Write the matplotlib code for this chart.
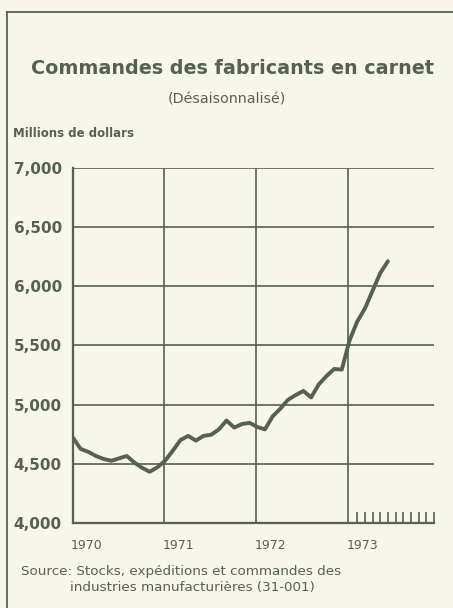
import matplotlib
matplotlib.use("Agg")
import matplotlib.pyplot as plt
from matplotlib.lines import Line2D
import numpy as np

# Commandes en carnet, mensuel, janv. 1970 - juin 1973 (millions de dollars)
mois = np.arange(42)
valeurs = [4720, 4625, 4600, 4565, 4540, 4525, 4545, 4565, 4510, 4465,
           4432, 4470, 4525, 4610, 4700, 4735, 4695, 4735, 4745, 4790,
           4865, 4805, 4835, 4845, 4810, 4790, 4900, 4965, 5040, 5080,
           5115, 5060, 5170, 5240, 5300, 5295, 5540, 5700, 5810, 5960,
           6110, 6210]

annees = ["1970", "1971", "1972", "1973"]
yticks = [4000, 4500, 5000, 5500, 6000, 6500, 7000]
ylabels = ["4,000", "4,500", "5,000", "5,500", "6,000", "6,500", "7,000"]

fond = "#f6f6ea"
encre = "#56624f"

fig = plt.figure(figsize=(4.53, 6.08), dpi=100, facecolor=fond)
ax = fig.add_axes([0.161, 0.140, 0.797, 0.584])
ax.set_facecolor(fond)

ax.plot(mois, valeurs, color=encre, lw=2.8, solid_capstyle="round",
        solid_joinstyle="round", zorder=3)

ax.set_xlim(0, 47)
ax.set_ylim(4000, 7000)

# grille
for y in yticks[1:]:
    ax.axhline(y, color=encre, lw=1.2, zorder=1)
for i in range(1, 4):
    ax.axvline(12 * i - 0.2, color=encre, lw=1.2, zorder=1)

for s in ["top", "right"]:
    ax.spines[s].set_visible(False)
ax.spines["left"].set_color(encre)
ax.spines["bottom"].set_color(encre)
ax.spines["left"].set_linewidth(1.6)
ax.spines["bottom"].set_linewidth(1.6)

ax.set_yticks(yticks)
ax.set_yticklabels(ylabels, fontsize=11, fontweight="bold", color=encre)
ax.tick_params(axis="y", length=0, pad=8)

# marques mensuelles de 1973
ax.set_xticks(np.arange(37, 48), minor=True)
ax.set_xticks([])
ax.tick_params(axis="x", which="minor", direction="in", length=8,
               width=1.2, color=encre)

for i, a in enumerate(annees):
    ax.text(12 * i - 0.3, 3805, a, fontsize=9, color=encre,
            ha="left", va="center")

# cadre
fig.add_artist(Line2D([7 / 453, 7 / 453], [0, 1 - 12 / 608],
                      transform=fig.transFigure, color=encre, lw=1.3))
fig.add_artist(Line2D([7 / 453, 1], [1 - 12 / 608, 1 - 12 / 608],
                      transform=fig.transFigure, color=encre, lw=1.3))

fig.text(233 / 453, 0.888, "Commandes des fabricants en carnet", fontsize=13.8,
         fontweight="bold", color=encre, ha="center", va="center")
fig.text(227 / 453, 0.836, "(Désaisonnalisé)", fontsize=10.3, color=encre,
         ha="center", va="center")
fig.text(13 / 453, 0.781, "Millions de dollars", fontsize=8.5,
         fontweight="bold", color=encre, ha="left", va="center")

fig.text(21 / 453, 1 - 572 / 608, "Source: Stocks, expéditions et commandes des",
         fontsize=9.7, color=encre, ha="left", va="center")
fig.text(70 / 453, 1 - 587 / 608, "industries manufacturières (31-001)",
         fontsize=9.7, color=encre, ha="left", va="center")

fig.savefig("out.png", dpi=100, facecolor=fond)
